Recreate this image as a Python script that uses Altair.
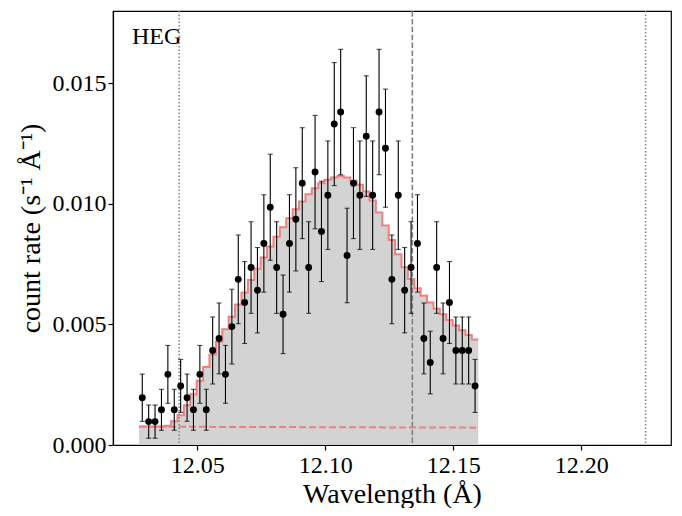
import altair as alt
import pandas as pd

# ---- data ----
wavelength = [12.0285, 12.0310, 12.0335, 12.0360, 12.0385, 12.0410, 12.0435, 12.0460, 12.0485, 12.0510,
              12.0535, 12.0560, 12.0585, 12.0610, 12.0635, 12.0660, 12.0685, 12.0710, 12.0735, 12.0760,
              12.0785, 12.0810, 12.0835, 12.0860, 12.0885, 12.0910, 12.0935, 12.0960, 12.0985, 12.1010,
              12.1035, 12.1060, 12.1085, 12.1110, 12.1135, 12.1160, 12.1185, 12.1210, 12.1235, 12.1260,
              12.1285, 12.1310, 12.1335, 12.1360, 12.1385, 12.1410, 12.1435, 12.1460, 12.1485, 12.1510,
              12.1535, 12.1560, 12.1585]
bin_width = 0.0025

rate = [0.00196, 0.00097, 0.00097, 0.00146, 0.00293, 0.00146, 0.00245, 0.00196, 0.00146, 0.00293,
        0.00146, 0.00392, 0.00442, 0.00293, 0.00491, 0.00687, 0.00591, 0.00736, 0.00642, 0.00836,
        0.00986, 0.00736, 0.00542, 0.00836, 0.00936, 0.01086, 0.00736, 0.01132, 0.00886, 0.01036,
        0.01331, 0.01381, 0.00786, 0.01086, 0.01036, 0.01281, 0.01036, 0.01381, 0.01231, 0.00687,
        0.01036, 0.00642, 0.00736, 0.00836, 0.00442, 0.00342, 0.00736, 0.00442, 0.00591, 0.00392,
        0.00392, 0.00392, 0.00245]

rate_err = [0.00098, 0.00069, 0.00069, 0.00085, 0.00120, 0.00085, 0.00110, 0.00098, 0.00085, 0.00120,
            0.00085, 0.00139, 0.00147, 0.00120, 0.00155, 0.00184, 0.00170, 0.00190, 0.00177, 0.00202,
            0.00220, 0.00190, 0.00163, 0.00202, 0.00214, 0.00230, 0.00190, 0.00235, 0.00208, 0.00225,
            0.00255, 0.00260, 0.00196, 0.00230, 0.00225, 0.00250, 0.00225, 0.00260, 0.00245, 0.00184,
            0.00225, 0.00177, 0.00190, 0.00202, 0.00147, 0.00130, 0.00190, 0.00147, 0.00170, 0.00139,
            0.00139, 0.00139, 0.00110]

model = [0.00077, 0.00077, 0.00077, 0.00077, 0.00080, 0.00099, 0.00123, 0.00165, 0.00210, 0.00266,
         0.00324, 0.00375, 0.00428, 0.00480, 0.00532, 0.00583, 0.00633, 0.00684, 0.00731, 0.00778,
         0.00823, 0.00864, 0.00903, 0.00940, 0.00978, 0.01010, 0.01040, 0.01065, 0.01086, 0.01100,
         0.01109, 0.01116, 0.01109, 0.01096, 0.01079, 0.01051, 0.01014, 0.00964, 0.00910, 0.00850,
         0.00791, 0.00737, 0.00688, 0.00650, 0.00619, 0.00591, 0.00565, 0.00542, 0.00518, 0.00496,
         0.00476, 0.00456, 0.00438]

background_x = [12.02725, 12.15975]
background_y = [0.00076, 0.00072]

dotted_lines = [12.0429, 12.2251]
dashed_lines = [12.1340]

x_ticks = [12.05, 12.10, 12.15, 12.20]
y_ticks = [0.000, 0.005, 0.010, 0.015]

FONT = "Liberation Serif"
LINE_COLOR = "#f08080"

# ---- tables ----
pts = pd.DataFrame({"x": wavelength, "y": rate, "err": rate_err})
pts["lo"] = pts["y"] - pts["err"]
pts["hi"] = pts["y"] + pts["err"]

edges = [w - bin_width / 2 for w in wavelength] + [wavelength[-1] + bin_width / 2]
step = pd.DataFrame({"x": edges, "y": model + [model[-1]]})
bkg = pd.DataFrame({"x": background_x, "y": background_y})
dots = pd.DataFrame({"x": dotted_lines})
dash = pd.DataFrame({"x": dashed_lines})

xscale = alt.Scale(domain=[12.01707, 12.23504], nice=False, zero=False)
yscale = alt.Scale(domain=[0, 0.018], nice=False)

xax = alt.Axis(values=x_ticks, format=".2f", title="Wavelength (Å)", grid=False,
               tickSize=5, labelPadding=3, titlePadding=3)
yax = alt.Axis(values=y_ticks, format=".3f", title="count rate (s⁻¹ Å⁻¹)", grid=False,
               tickSize=5, labelPadding=2, titlePadding=7)

X = alt.X("x:Q", scale=xscale, axis=xax)
Y = alt.Y("y:Q", scale=yscale, axis=yax)

fill = alt.Chart(step).mark_area(interpolate="step-after", color="#d3d3d3").encode(x=X, y=Y)
line = alt.Chart(step).mark_line(interpolate="step-after", color=LINE_COLOR, strokeWidth=2).encode(x=X, y=Y)
bline = alt.Chart(bkg).mark_line(color=LINE_COLOR, strokeWidth=2, strokeDash=[7, 3]).encode(x=X, y=Y)

vdot = alt.Chart(dots).mark_rule(color="#808080", strokeWidth=1.5, strokeDash=[1.5, 2.0]).encode(x=X)
vdash = alt.Chart(dash).mark_rule(color="#808080", strokeWidth=1.6, strokeDash=[5.5, 2.4]).encode(x=X)

ebar = alt.Chart(pts).mark_rule(color="black", strokeWidth=1.1).encode(
    x=X, y=alt.Y("lo:Q", scale=yscale, axis=yax), y2="hi:Q")
cap_lo = alt.Chart(pts).mark_tick(color="black", orient="horizontal", size=5, thickness=1.1).encode(
    x=X, y=alt.Y("lo:Q", scale=yscale, axis=yax))
cap_hi = alt.Chart(pts).mark_tick(color="black", orient="horizontal", size=5, thickness=1.1).encode(
    x=X, y=alt.Y("hi:Q", scale=yscale, axis=yax))
points = alt.Chart(pts).mark_circle(color="black", size=48, opacity=1).encode(x=X, y=Y)

label = alt.Chart(pd.DataFrame({"t": ["HEG"]})).mark_text(
    font=FONT, fontSize=24, align="left", baseline="middle", color="black"
).encode(x=alt.value(19), y=alt.value(26), text="t:N")

chart = alt.layer(fill, line, bline, vdot, vdash, ebar, cap_lo, cap_hi, points, label).properties(
    width=558, height=434,
    padding={"left": 105, "top": 3, "right": 3, "bottom": 63},
    autosize=alt.AutoSizeParams(type="none"),
).configure_view(stroke="black", strokeWidth=1.2).configure_axis(
    labelFont=FONT, titleFont=FONT, labelFontSize=24, titleFontSize=28,
    titleFontWeight="normal", labelColor="black", titleColor="black",
    domainColor="black", tickColor="black", domainWidth=1.2, tickWidth=1.2,
)

chart.save("out.html", embed_options={"renderer": "svg", "actions": False})
